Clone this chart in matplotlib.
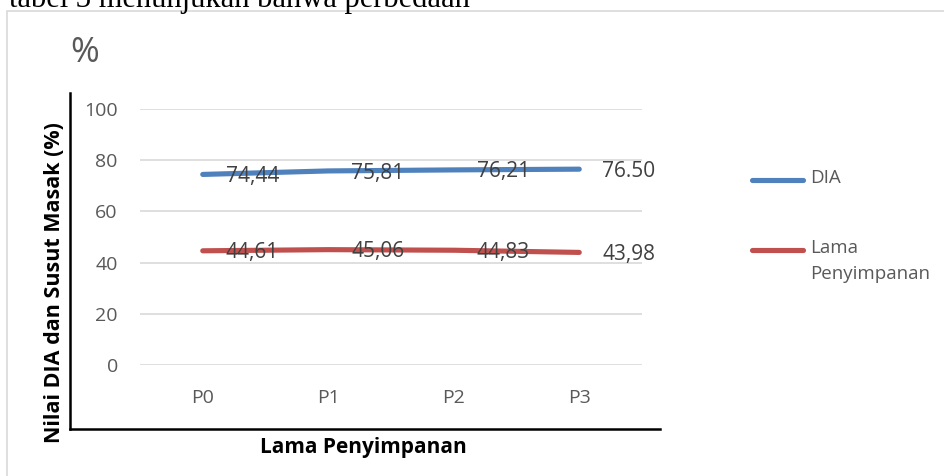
import matplotlib
matplotlib.use("Agg")
import textwrap
import matplotlib.pyplot as plt
from matplotlib.lines import Line2D
from matplotlib.patches import Rectangle

# ------------------------------------------------------- data
categories = ["P0", "P1", "P2", "P3"]
series_names = ["DIA", "Lama Penyimpanan"]
dia_values = [74.44, 75.81, 76.21, 76.50]
lama_values = [44.61, 45.06, 44.83, 43.98]
dia_labels = ["74,44", "75,81", "76,21", "76.50"]
lama_labels = ["44,61", "45,06", "44,83", "43,98"]
y_ticks = [0, 20, 40, 60, 80, 100]

colors = ["#4F81BD", "#C0504D"]
GRAY = "#595959"
W, H = 945, 476


def fx(px):
    return px / W


def fy(py):
    return 1 - py / H


fig = plt.figure(figsize=(9.45, 4.76), dpi=100)

# text of the document above the chart (cut off at the top)
fig.text(fx(9), fy(7), "tabel 3 menunjukan bahwa perbedaan",
         family="Liberation Serif", fontsize=22, color="black",
         va="baseline", ha="left")

# chart frame
fig.patches.append(Rectangle((fx(7), fy(500)), fx(960), fy(11) - fy(500),
                             transform=fig.transFigure, fill=False,
                             edgecolor="#D9D9D9", lw=1.2))

ax = fig.add_axes([fx(140), fy(365), fx(642) - fx(140), fy(109) - fy(365)])
x = range(len(categories))
for vals, labs, col in [(dia_values, dia_labels, colors[0]),
                        (lama_values, lama_labels, colors[1])]:
    ax.plot(x, vals, color=col, lw=3.7, solid_capstyle="round")
    for i, (v, t) in enumerate(zip(vals, labs)):
        ax.annotate(t, (i, v), xytext=(16.5, -1.5), textcoords="offset points",
                    ha="left", va="center", fontsize=15, family="Open Sans",
                    color="#404040")

ax.set_xlim(-0.5, len(categories) - 0.5)
ax.set_ylim(0, 100)
ax.set_yticks(y_ticks)
ax.set_xticks(list(x), categories)
ax.grid(axis="y", color="#D9D9D9", lw=1.2)
ax.set_axisbelow(True)
for s in ax.spines.values():
    s.set_visible(False)
ax.tick_params(length=0, labelsize=14, labelcolor=GRAY)
ax.tick_params(axis="y", pad=16)
ax.tick_params(axis="x", pad=17)
for lab in ax.get_xticklabels() + ax.get_yticklabels():
    lab.set_family("Open Sans")

# hand-drawn axis lines
fig.lines.append(Line2D([fx(70.5), fx(70.5)], [fy(93), fy(429)],
                        transform=fig.transFigure, color="black", lw=1.8))
fig.lines.append(Line2D([fx(70), fx(660)], [fy(429), fy(429)],
                        transform=fig.transFigure, color="black", lw=1.8))

fig.text(fx(85), fy(53), "%", fontsize=25, family="Open Sans", color=GRAY,
         ha="center", va="center")
fig.text(fx(55), fy(283), "Nilai DIA dan Susut Masak (%)", rotation=90,
         fontsize=15.5, fontweight="bold", family="Open Sans", color="black",
         ha="center", va="center")
fig.text(fx(363), fy(447), "Lama Penyimpanan", fontsize=15,
         fontweight="bold", family="Open Sans", color="black",
         ha="center", va="center")

# legend
for k, (name, col) in enumerate(zip(series_names, colors)):
    yy = 180 + k * 70
    fig.lines.append(Line2D([fx(752), fx(803)], [fy(yy), fy(yy)],
                            transform=fig.transFigure, color=col, lw=3.7,
                            solid_capstyle="round"))
    fig.text(fx(810), fy(yy - 11), textwrap.fill(name, 12), fontsize=13.5,
             family="Open Sans", color=GRAY, ha="left", va="top",
             linespacing=1.6)

fig.savefig("out.png", dpi=100)
